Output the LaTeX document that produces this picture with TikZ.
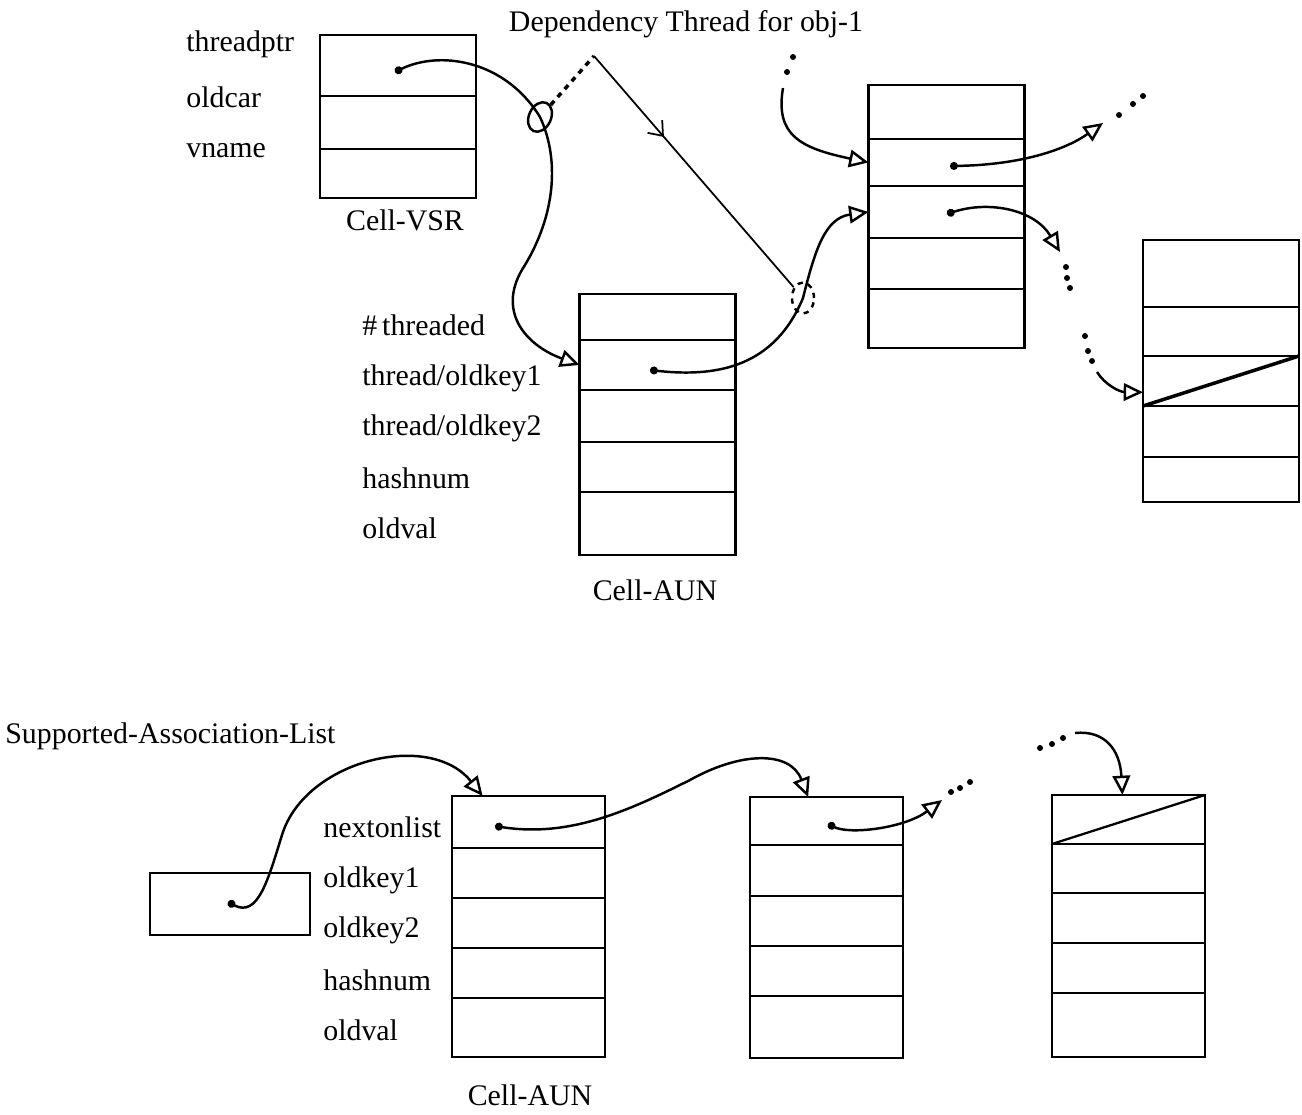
\documentclass[tikz,border=0pt]{standalone}
\usepackage{fontspec}
\setmainfont{Liberation Serif}
\usetikzlibrary{arrows.meta,calc,positioning,shapes.geometric,decorations.markings}

\begin{document}
\begin{tikzpicture}[x=0.02cm,y=-0.02cm,>=Latex,
    every node/.style={font=\fontsize{17}{20}\selectfont},
    row/.style={draw,line width=1.4pt,minimum width=3.12cm,inner sep=0pt,outer sep=0pt},
    lbl/.style={anchor=west,inner sep=0pt},
    arr/.style={line width=1.4pt,-{Triangle[open,length=11pt,width=10pt]}},
    ptr/.style={line width=1.4pt,{Circle[length=4.5pt]}-{Triangle[open,length=11pt,width=10pt]}},
    ring/.style={draw,ellipse,line width=1.4pt,minimum width=0.44cm,minimum height=0.62cm,inner sep=0pt}]
  \useasboundingbox (0,0) rectangle (1302,1115);

  % cells of the upper part
  \foreach \i/\ya/\yb in {1/35/96,2/96/149,3/149/198}
    \node[row,minimum height={(\yb-\ya)*0.02cm}] (vsr\i) at (398,{(\ya+\yb)/2}) {};
  \foreach \i/\ya/\yb in {1/294/340,2/340/390,3/390/442,4/442/492,5/492/555}
    \node[row,minimum height={(\yb-\ya)*0.02cm}] (aun\i) at (657.5,{(\ya+\yb)/2}) {};
  \foreach \i/\ya/\yb in {1/85/139,2/139/186,3/186/238,4/238/289,5/289/348}
    \node[row,minimum height={(\yb-\ya)*0.02cm}] (obja\i) at (946.5,{(\ya+\yb)/2}) {};
  \foreach \i/\ya/\yb in {1/240/307,2/307/356,3/356/406,4/406/457,5/457/502}
    \node[row,minimum height={(\yb-\ya)*0.02cm}] (objb\i) at (1221,{(\ya+\yb)/2}) {};
  \draw[line width=2pt] (objb3.south west) -- (objb3.north east);

  \node (title) at (686,24) {Dependency Thread for obj-1};
  \node[lbl] (threadptr) at (186,44) {threadptr};
  \node[lbl] (oldcar) at (186,97) {oldcar};
  \node[lbl] (vname) at (186,151) {vname};
  \node (vsrname) at (405,220) {Cell-VSR};
  \node[lbl] (threaded) at (362,325) {\#\,threaded};
  \node[lbl] (tkey1) at (362,378) {thread/oldkey1};
  \node[lbl] (tkey2) at (362,428) {thread/oldkey2};
  \node[lbl] (hash) at (362,478) {hashnum};
  \node[lbl] (oval) at (362,528) {oldval};
  \node (aunname) at (655,590) {Cell-AUN};

  % dependency thread
  \node[ring,rotate=-25] (c1) at (540,117) {};
  \node[ring,dashed] (c2) at (803,298) {};
  \coordinate (apex) at (594,56);
  \draw[line width=2pt,dashed] (c1) -- (apex);
  \draw[line width=1pt,postaction={decorate},
    decoration={markings,mark=at position 0.35 with {\arrow{Straight Barb[length=7pt,width=11pt]}}}]
    (apex) -- (c2);

  \coordinate (p1) at (395,72);
  \coordinate (p2) at (650,370);
  \coordinate (p3) at (950,166);
  \coordinate (p4) at (947,214);
  \coordinate (f1) at (783,88);
  \coordinate (f2) at (1103,123);
  \coordinate (f3) at (1060,252);
  \coordinate (f4) at (1097,372);
  \draw[ptr] (p1) .. controls (440,50) and (505,60) .. (c1.center)
    .. controls (560,160) and (555,215) .. (525,265)
    .. controls (495,310) and (525,345) .. (aun2.west);
  \draw[ptr] (p2) .. controls (720,378) and (775,365) .. (c2.center)
    .. controls (815,250) and (825,218) .. (obja3.west);
  \draw[arr] (f1) .. controls (775,135) and (800,148) .. (obja2.west);
  \draw[ptr] (p3) .. controls (1020,165) and (1065,150) .. (f2);
  \draw[ptr] (p4) .. controls (990,200) and (1035,210) .. (f3);
  \draw[arr] (f4) .. controls (1105,385) and (1120,392) .. ($(objb3.west)!0.45!(objb3.south west)$);
  \foreach \p in {(793,57),(787,72),(1119,115),(1133,104),(1143,96),
      (1066,267),(1067,278),(1070,288),(1085,336),(1088,351),(1092,361)}
    \fill \p circle (1.7pt);

  % supported association list
  \node[lbl] (slist) at (5,736) {Supported-Association-List};
  \node[draw,line width=1.4pt,minimum width=3.2cm,minimum height=1.24cm] (head) at (230,904) {};
  \foreach \i/\ya/\yb in {1/796/848,2/848/898,3/898/948,4/948/998,5/998/1057}
    \node[row,minimum width=3.06cm,minimum height={(\yb-\ya)*0.02cm}] (sal\i) at (528.5,{(\ya+\yb)/2}) {};
  \foreach \i/\ya/\yb in {1/797/845,2/845/896,3/896/946,4/946/996,5/996/1058}
    \node[row,minimum width=3.06cm,minimum height={(\yb-\ya)*0.02cm}] (salb\i) at (826.5,{(\ya+\yb)/2}) {};
  \foreach \i/\ya/\yb in {1/795/844,2/844/893,3/893/943,4/943/993,5/993/1057}
    \node[row,minimum width=3.06cm,minimum height={(\yb-\ya)*0.02cm}] (salc\i) at (1128.5,{(\ya+\yb)/2}) {};
  \draw[line width=1.3pt] (salc1.south west) -- (salc1.north east);

  \node[lbl] (nxt) at (323,827) {nextonlist};
  \node[lbl] (okey1) at (323,880) {oldkey1};
  \node[lbl] (okey2) at (323,930) {oldkey2};
  \node[lbl] (bhash) at (323,980) {hashnum};
  \node[lbl] (bval) at (323,1030) {oldval};
  \node (saln) at (530,1095) {Cell-AUN};

  \coordinate (hd) at (228,902);
  \coordinate (p5) at (495,826);
  \coordinate (p6) at (828,824);
  \coordinate (f5) at (942,800);
  \coordinate (f6) at (1075,733);
  \draw[ptr] (hd) .. controls (258,918) and (268,880) .. (282,835)
    .. controls (305,760) and (430,730) .. ($(sal1.north west)!0.2!(sal1.north east)$);
  \draw[ptr] (p5) .. controls (570,838) and (630,810) .. (690,780)
    .. controls (740,752) and (790,750) .. ($(salb1.north west)!0.38!(salb1.north east)$);
  \draw[ptr] (p6) .. controls (850,835) and (905,828) .. (f5);
  \draw[arr] (f6) .. controls (1105,730) and (1120,750) .. ($(salc1.north west)!0.46!(salc1.north east)$);
  \foreach \p in {(951,792),(960,788),(970,782),(1040,748),(1052,744),(1063,738)}
    \fill \p circle (1.7pt);
\end{tikzpicture}
\end{document}
